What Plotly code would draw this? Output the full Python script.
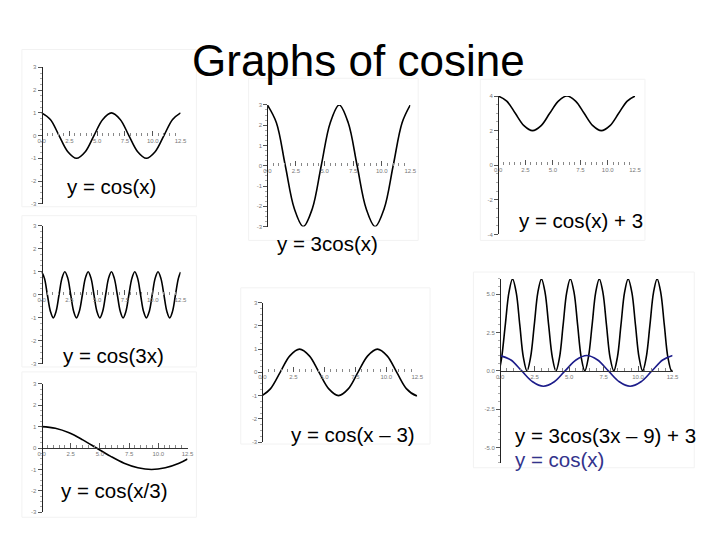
import plotly.graph_objects as go

# ---------------- data ----------------
X_TICK_VALS = [0, 2.5, 5.0, 7.5, 10.0, 12.5]
X_TICK_TEXT = ["0.0", "2.5", "5.0", "7.5", "10.0", "12.5"]

Y3_TICK_VALS = [3, 2, 1, 0, -1, -2, -3]
Y3_TICK_TEXT = ["3", "2", "1", "0", "-1", "-2", "-3"]
Y4_TICK_VALS = [4, 2, 0, -2, -4]
Y4_TICK_TEXT = ["4", "2", "0", "-2", "-4"]
Y6_TICK_VALS = [5, 2.5, 0, -2.5, -5]
Y6_TICK_TEXT = ["5.0", "2.5", "0.0", "-2.5", "-5.0"]

# y = cos(x)
x_cos = [0, 0.79, 1.57, 2.36, 3.14, 3.93, 4.71, 5.50, 6.28, 7.07, 7.85, 8.64,
         9.42, 10.21, 11.00, 11.78, 12.5]
y_cos = [1, 0.71, 0, -0.71, -1, -0.71, 0, 0.71, 1, 0.71, 0, -0.71,
         -1, -0.71, 0, 0.71, 1]
# y = 3cos(x)
y_3cos = [3, 2.12, 0, -2.12, -3, -2.12, 0, 2.12, 3, 2.12, 0, -2.12,
          -3, -2.12, 0, 2.12, 3]
# y = cos(x) + 3
y_cos_p3 = [4, 3.71, 3, 2.29, 2, 2.29, 3, 3.71, 4, 3.71, 3, 2.29,
            2, 2.29, 3, 3.71, 4]
# y = cos(3x)
x_cos3x = [0, 0.26, 0.52, 0.79, 1.05, 1.31, 1.57, 1.83,
           2.09, 2.36, 2.62, 2.88, 3.14, 3.40, 3.67, 3.93,
           4.19, 4.45, 4.71, 4.97, 5.24, 5.50, 5.76, 6.02,
           6.28, 6.54, 6.81, 7.07, 7.33, 7.59, 7.85, 8.12,
           8.38, 8.64, 8.90, 9.16, 9.42, 9.69, 9.95, 10.21,
           10.47, 10.73, 11.00, 11.26, 11.52, 11.78, 12.04, 12.30, 12.5]
y_cos3x = [1, 0.71, 0, -0.71, -1, -0.71, 0, 0.71,
           1, 0.71, 0, -0.71, -1, -0.71, 0, 0.71,
           1, 0.71, 0, -0.71, -1, -0.71, 0, 0.71,
           1, 0.71, 0, -0.71, -1, -0.71, 0, 0.71,
           1, 0.71, 0, -0.71, -1, -0.71, 0, 0.71,
           1, 0.71, 0, -0.71, -1, -0.71, 0, 0.71, 0.98]
# y = cos(x/3)
x_cosx3 = [0, 1.18, 2.36, 3.53, 4.71, 5.89, 7.07, 8.25, 9.42, 10.60, 11.78, 12.5]
y_cosx3 = [1, 0.92, 0.71, 0.38, 0, -0.38, -0.71, -0.92, -1, -0.92, -0.71, -0.51]
# y = cos(x - 3)
x_shift = [0, 0.64, 1.43, 2.21, 3.0, 3.79, 4.57, 5.36, 6.14, 6.93, 7.71, 8.50,
           9.28, 10.07, 10.85, 11.64, 12.42, 12.5]
y_shift = [-0.99, -0.71, 0, 0.71, 1, 0.71, 0, -0.71, -1, -0.71, 0, 0.71,
           1, 0.71, 0, -0.71, -1, -1]
# y = 3cos(3x - 9) + 3
x_combo = [0, 0.12, 0.38, 0.645, 0.906, 1.17, 1.43, 1.69,
           1.95, 2.21, 2.48, 2.74, 3.0, 3.26, 3.52, 3.79,
           4.05, 4.31, 4.57, 4.83, 5.09, 5.36, 5.62, 5.88,
           6.14, 6.40, 6.67, 6.93, 7.19, 7.45, 7.71, 7.97,
           8.24, 8.50, 8.76, 9.02, 9.28, 9.55, 9.81, 10.07,
           10.33, 10.59, 10.86, 11.12, 11.38, 11.64, 11.90, 12.16, 12.42, 12.5]
y_combo = [0.27, 0.88, 3, 5.12, 6, 5.12, 3, 0.88,
           0, 0.88, 3, 5.12, 6, 5.12, 3, 0.88,
           0, 0.88, 3, 5.12, 6, 5.12, 3, 0.88,
           0, 0.88, 3, 5.12, 6, 5.12, 3, 0.88,
           0, 0.88, 3, 5.12, 6, 5.12, 3, 0.88,
           0, 0.88, 3, 5.12, 6, 5.12, 3, 0.88, 0, 0.05]

LABELS = ["y = cos(x)", "y = 3cos(x)", "y = cos(x) + 3", "y = cos(3x)",
          "y = cos(x/3)", "y = cos(x \u2013 3)", "y = 3cos(3x \u2013 9) + 3", "y = cos(x)"]

# ---------------- layout geometry (pixels in the 720x540 window) ----------------
OFF = 8                      # page body margin around the plot div
W, H = 720 - OFF, 540 - OFF  # figure size so the div ends at the window edge


def fx(px):
    return (px - OFF) / W


def fy(py):
    return 1 - (py - OFF) / H


NAVY = "#1c1c8a"
panels = [
    dict(series=[(x_cos, y_cos, "black")], yr=(-3, 3), yt=(Y3_TICK_VALS, Y3_TICK_TEXT), ydt=0.25,
         px=(38, 179, 65, 203), frame=(18, 47, 195, 206), xline=False),
    dict(series=[(x_cos, y_3cos, "black")], yr=(-3, 3), yt=(Y3_TICK_VALS, Y3_TICK_TEXT), ydt=0.25,
         px=(267, 412, 103, 226), frame=(248, 76, 420, 240), xline=False),
    dict(series=[(x_cos, y_cos_p3, "black")], yr=(-4, 4), yt=(Y4_TICK_VALS, Y4_TICK_TEXT), ydt=0.5,
         px=(501, 640, 94, 234), frame=(483, 77, 650, 240), xline=False),
    dict(series=[(x_cos3x, y_cos3x, "black")], yr=(-3, 3), yt=(Y3_TICK_VALS, Y3_TICK_TEXT), ydt=0.25,
         px=(38, 179, 225, 365), frame=(18, 215, 195, 368), xline=False),
    dict(series=[(x_cosx3, y_cosx3, "black")], yr=(-3, 3), yt=(Y3_TICK_VALS, Y3_TICK_TEXT), ydt=0.25,
         px=(38, 186, 385, 515), frame=(18, 373, 195, 520), xline=True),
    dict(series=[(x_shift, y_shift, "black")], yr=(-3, 3), yt=(Y3_TICK_VALS, Y3_TICK_TEXT), ydt=0.25,
         px=(262, 419, 303, 444), frame=(240, 288, 432, 446), xline=False),
    dict(series=[(x_combo, y_combo, "black"), (x_cos, y_cos, NAVY)], yr=(-6, 6),
         yt=(Y6_TICK_VALS, Y6_TICK_TEXT), ydt=0.5,
         px=(503, 678, 279, 465), frame=(476, 272, 700, 470), xline=True),
]

label_pos = [(62, 186, "black"), (275, 243, "black"), (520, 220, "black"), (58, 356, "black"),
             (56, 493, "black"), (289, 436, "black"), (516, 437, "black"), (516, 462, "#33338c")]

fig = go.Figure()
layout = dict(width=W, height=H, margin=dict(l=0, r=0, t=0, b=0),
              paper_bgcolor="white", plot_bgcolor="rgba(0,0,0,0)", showlegend=False)
shapes = []
annotations = []
TICKFONT = dict(family="Arial, Liberation Sans, sans-serif", size=6, color="#777777")

for i, p in enumerate(panels):
    k = "" if i == 0 else str(i + 1)
    x0, x1, yt, yb = p["px"]
    zero_px = yt + (p["yr"][1] - 0) / (p["yr"][1] - p["yr"][0]) * (yb - yt)
    for xs, ys, col in p["series"]:
        fig.add_trace(go.Scatter(x=xs, y=ys, mode="lines",
                                 line=dict(color=col, width=1.6, shape="spline", smoothing=1.0),
                                 xaxis="x" + k, yaxis="y" + k, hoverinfo="skip"))
    layout["xaxis" + k] = dict(
        domain=[fx(x0), fx(x1)], range=[0, 12.5], anchor="free", position=fy(zero_px),
        showline=p["xline"], linecolor="#333333", linewidth=1, showgrid=False, zeroline=False,
        tickmode="array", tickvals=X_TICK_VALS, ticktext=X_TICK_TEXT,
        ticks="inside", ticklen=5, tickwidth=1, tickcolor="#555555", tickfont=TICKFONT,
        minor=dict(tick0=0, dtick=0.5, ticks="inside", ticklen=3, tickcolor="#888888"),
    )
    layout["yaxis" + k] = dict(
        domain=[fy(yb), fy(yt)], range=list(p["yr"]), anchor="free", position=fx(x0),
        showline=True, linecolor="#222222", linewidth=1, showgrid=False, zeroline=False,
        tickmode="array", tickvals=p["yt"][0], ticktext=p["yt"][1],
        ticks="outside", ticklen=4, tickwidth=1, tickcolor="#555555", tickfont=TICKFONT,
        minor=dict(tick0=0, dtick=p["ydt"], ticks="outside", ticklen=2, tickcolor="#aaaaaa"),
    )
    fx0, fy0, fx1, fy1 = p["frame"]
    shapes.append(dict(type="rect", xref="paper", yref="paper", x0=fx(fx0), x1=fx(fx1),
                       y0=fy(fy1), y1=fy(fy0), line=dict(color="#f2f2f2", width=1),
                       layer="below"))

for text, (lx, ly, col) in zip(LABELS, label_pos):
    annotations.append(dict(text=text, xref="paper", yref="paper", x=fx(lx), y=fy(ly),
                            xanchor="left", yanchor="middle", showarrow=False,
                            font=dict(family="Arial, Liberation Sans, sans-serif", size=20.5, color=col)))

annotations.append(dict(text="Graphs of cosine", xref="paper", yref="paper", x=fx(359), y=fy(58),
                        xanchor="center", yanchor="middle", showarrow=False,
                        font=dict(family="Arial, Liberation Sans, sans-serif", size=44, color="black")))

layout["shapes"] = shapes
layout["annotations"] = annotations
fig.update_layout(**layout)
fig.write_html("out.html")
